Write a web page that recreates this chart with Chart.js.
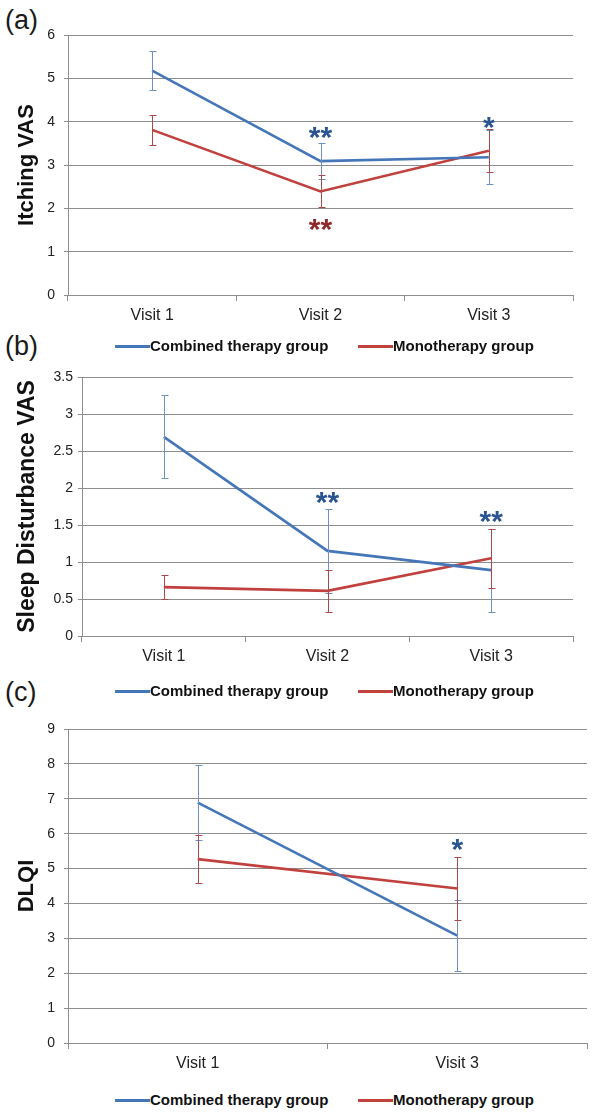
<!DOCTYPE html>
<html>
<head>
<meta charset="utf-8">
<script src="https://cdn.jsdelivr.net/npm/chart.js@4.4.0/dist/chart.umd.min.js"></script>
<style>
  body { margin: 0; background: #fff; width: 597px; height: 1112px; position: relative; overflow: hidden; font-family: "Liberation Sans", Arial, sans-serif; }
  canvas { position: absolute; left: 0; }
  .panel { position: absolute; left: 5px; font-size: 27px; line-height: 27px; color: #1a1a1a; }
  .legend { position: absolute; left: 0; width: 597px; height: 20px; font-weight: bold; font-size: 15px; color: #111; }
  .legend span { position: absolute; }
  .legend .sw { height: 3px; width: 35px; top: 9px; }
  .legend .tx { top: 1px; line-height: 18px; }
</style>
</head>
<body>
<div class="panel" style="top:7px">(a)</div>
<div class="panel" style="top:333px">(b)</div>
<div class="panel" style="top:679px">(c)</div>

<canvas id="chartA" width="597" height="330" style="top:0px"></canvas>
<canvas id="chartB" width="597" height="331" style="top:340px"></canvas>
<canvas id="chartC" width="597" height="378" style="top:700px"></canvas>

<div class="legend" style="top:336px"></div>
<div class="legend" style="top:681px"></div>
<div class="legend" style="top:1090px"></div>

<script>
const visitsAB = ['Visit 1', 'Visit 2', 'Visit 3'];
const visitsC = ['Visit 1', 'Visit 3'];

const seriesNames = ['Combined therapy group', 'Monotherapy group'];

// (a) Itching VAS
const itchCombined = [5.18, 3.09, 3.18];
const itchCombinedErr = [0.46, 0.42, 0.62];
const itchMono = [3.81, 2.39, 3.33];
const itchMonoErr = [0.34, 0.37, 0.50];
const itchTicks = [0, 1, 2, 3, 4, 5, 6];

// (b) Sleep Disturbance VAS
const sleepCombined = [2.69, 1.15, 0.89];
const sleepCombinedErr = [0.56, 0.57, 0.56];
const sleepMono = [0.66, 0.61, 1.05];
const sleepMonoErr = [0.16, 0.28, 0.40];
const sleepTicks = [0, 0.5, 1, 1.5, 2, 2.5, 3, 3.5];

// (c) DLQI
const dlqiCombined = [6.89, 3.08];
const dlqiCombinedErr = [1.07, 1.03];
const dlqiMono = [5.27, 4.43];
const dlqiMonoErr = [0.68, 0.90];
const dlqiTicks = [0, 1, 2, 3, 4, 5, 6, 7, 8, 9];

// significance marks: [category index, value, text, series]
const itchMarks = [[1, 3.81, '**', 0], [1, 1.69, '**', 1], [2, 4.04, '*', 0]];
const sleepMarks = [[1, 1.90, '**', 0], [2, 1.65, '**', 0]];
const dlqiMarks = [[1, 5.75, '*', 0]];

const lineColors = ['#4577b8', '#c0413e'];
const errColors = ['#6f90c6', '#a84a4c'];
const markColors = ['#2a5590', '#8e2a2a'];
const gridColor = '#8e8e8e';

const errorBars = {
  id: 'errorBars',
  afterDatasetsDraw(chart) {
    const ctx = chart.ctx;
    const y = chart.scales.y;
    chart.data.datasets.forEach((ds, i) => {
      const meta = chart.getDatasetMeta(i);
      ctx.save();
      ctx.strokeStyle = errColors[i];
      ctx.lineWidth = 1;
      ds.data.forEach((v, j) => {
        const px = Math.round(meta.data[j].x) + 0.5;
        const top = Math.round(y.getPixelForValue(v + ds.errors[j])) + 0.5;
        const bot = Math.round(y.getPixelForValue(v - ds.errors[j])) + 0.5;
        ctx.beginPath();
        ctx.moveTo(px, top); ctx.lineTo(px, bot);
        ctx.moveTo(px - 3, top); ctx.lineTo(px + 4, top);
        ctx.moveTo(px - 3, bot); ctx.lineTo(px + 4, bot);
        ctx.stroke();
      });
      ctx.restore();
    });
  }
};

const sigMarks = {
  id: 'sigMarks',
  afterDraw(chart, args, opts) {
    const ctx = chart.ctx;
    const { x, y } = chart.scales;
    ctx.save();
    ctx.font = 'bold 30px "Liberation Sans", Arial';
    ctx.textAlign = 'center';
    ctx.textBaseline = 'alphabetic';
    (opts.marks || []).forEach(m => {
      ctx.fillStyle = markColors[m[3]];
      ctx.fillText(m[2], x.getPixelForValue(m[0]), y.getPixelForValue(m[1]) + 17);
    });
    ctx.restore();
  }
};

function makeChart(id, labels, combined, combinedErr, mono, monoErr, ticks, marks, title, titleSize, axisW, padTop, tickPad) {
  return new Chart(document.getElementById(id), {
    type: 'line',
    data: {
      labels: labels,
      datasets: [
        { label: seriesNames[0], data: combined, errors: combinedErr, borderColor: lineColors[0], borderWidth: 2.6, pointRadius: 0, tension: 0 },
        { label: seriesNames[1], data: mono, errors: monoErr, borderColor: lineColors[1], borderWidth: 2.6, pointRadius: 0, tension: 0 }
      ]
    },
    options: {
      responsive: false,
      animation: false,
      devicePixelRatio: 1,
      layout: { padding: { top: padTop, left: 0, right: 597 - (id === 'chartC' ? 587 : 573), bottom: 0 } },
      plugins: {
        legend: { display: false },
        tooltip: { enabled: false },
        sigMarks: { marks: marks }
      },
      scales: {
        x: {
          offset: true,
          grid: { offset: true, drawOnChartArea: false, drawTicks: true, tickLength: 6, color: gridColor },
          border: { display: true, color: gridColor },
          ticks: { color: '#222', padding: 5, font: { size: 16, family: '"Liberation Sans", Arial' } },
          afterFit: s => { s.height = 35; }
        },
        y: {
          min: ticks[0],
          max: ticks[ticks.length - 1],
          ticks: {
            stepSize: ticks[1] - ticks[0],
            color: '#222',
            padding: tickPad,
            font: { size: 14, family: '"Liberation Sans", Arial' },
            callback: v => String(Math.round(v * 10) / 10)
          },
          grid: { color: gridColor, tickLength: 4 },
          border: { display: true, color: gridColor },
          title: { display: true, text: title, color: '#111', padding: { top: 14, bottom: 0 }, font: { size: titleSize, weight: 'bold', family: '"Liberation Sans", Arial' } },
          afterFit: s => { s.width = axisW; }
        }
      }
    },
    plugins: [errorBars, sigMarks]
  });
}

makeChart('chartA', visitsAB, itchCombined, itchCombinedErr, itchMono, itchMonoErr, itchTicks, itchMarks, 'Itching VAS', 22, 68, 35, 9);
makeChart('chartB', visitsAB, sleepCombined, sleepCombinedErr, sleepMono, sleepMonoErr, sleepTicks, sleepMarks, 'Sleep Disturbance VAS', 23, 82, 37, 5);
makeChart('chartC', visitsC, dlqiCombined, dlqiCombinedErr, dlqiMono, dlqiMonoErr, dlqiTicks, dlqiMarks, 'DLQI', 22, 68, 29, 9);

document.querySelectorAll('.legend').forEach(el => {
  el.innerHTML =
    '<span class="sw" style="left:115px;background:' + lineColors[0] + '"></span>' +
    '<span class="tx" style="left:150px">' + seriesNames[0] + '</span>' +
    '<span class="sw" style="left:358px;background:' + lineColors[1] + '"></span>' +
    '<span class="tx" style="left:393px">' + seriesNames[1] + '</span>';
});
</script>
</body>
</html>
